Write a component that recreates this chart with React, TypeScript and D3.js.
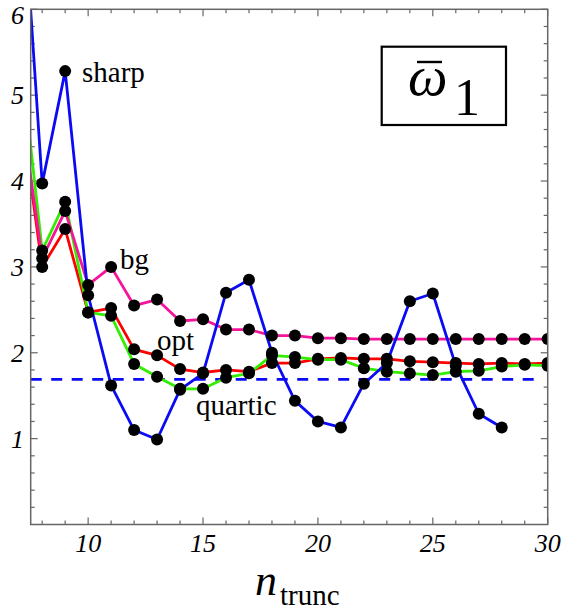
import React from 'react';
import * as d3 from 'd3';

// ---- data ----
const nAll = [7, 8, 9, 10, 11, 12, 13, 14, 15, 16, 17, 18, 19, 20, 21, 22, 23, 24, 25, 26, 27, 28, 29, 30];
const nSharp = [7, 8, 9, 10, 11, 12, 13, 14, 15, 16, 17, 18, 19, 20, 21, 22, 23, 24, 25, 26, 27, 28];
const sharpValues = [8.0, 3.97, 5.28, 2.67, 1.62, 1.10, 0.99, 1.57, 1.76, 2.70, 2.85, 2.0, 1.44, 1.20, 1.13, 1.64, 1.88, 2.60, 2.69, 1.85, 1.29, 1.13];
const bgValues = [5.0, 3.10, 3.65, 2.79, 3.0, 2.55, 2.62, 2.37, 2.39, 2.27, 2.27, 2.20, 2.20, 2.17, 2.17, 2.16, 2.16, 2.16, 2.16, 2.16, 2.16, 2.16, 2.16, 2.16];
const optValues = [4.96, 3.0, 3.44, 2.47, 2.52, 2.04, 1.97, 1.81, 1.77, 1.80, 1.78, 1.88, 1.88, 1.93, 1.94, 1.93, 1.93, 1.90, 1.89, 1.88, 1.87, 1.88, 1.87, 1.88];
const quarticValues = [5.61, 3.19, 3.76, 2.47, 2.43, 1.87, 1.72, 1.58, 1.58, 1.71, 1.76, 1.97, 1.95, 1.92, 1.92, 1.82, 1.78, 1.76, 1.74, 1.78, 1.79, 1.84, 1.86, 1.85];
const referenceLevel = 1.69;
const xTickLabels = [10, 15, 20, 25, 30];
const yTickLabels = [1, 2, 3, 4, 5, 6];

const W = 565;
const H = 611;
const L = 30.7, R = 547.7, T = 9.3, B = 524.5;

export default function App() {
  const x = d3.scaleLinear().domain([7.5, 30]).range([L, R]);
  const y = d3.scaleLinear().domain([0, 6]).range([B, T]);

  const series = [
    { name: 'opt', color: '#ff0000', xs: nAll, ys: optValues },
    { name: 'quartic', color: '#33ee00', xs: nAll, ys: quarticValues },
    { name: 'bg', color: '#f5149a', xs: nAll, ys: bgValues },
    { name: 'sharp', color: '#0a0af5', xs: nSharp, ys: sharpValues },
  ];

  const line = d3
    .line<[number, number]>()
    .x((d) => x(d[0]))
    .y((d) => y(d[1]));

  const xMinor = d3.range(8, 30, 1).filter((v) => v % 5 !== 0);
  const yMinor = d3.range(1, 30).map((v) => v * 0.2).filter((v) => Math.abs(v - Math.round(v)) > 1e-6);
  const frameColor = '#666';
  const font = 'Liberation Serif';

  return (
    <svg width={W} height={H} style={{ position: 'absolute', left: 0, top: 0, background: '#fff' }}>
      <defs>
        <clipPath id="plotClip">
          <rect x={L} y={T} width={R - L} height={B - T} />
        </clipPath>
      </defs>
      <rect x={0} y={0} width={W} height={H} fill="#fff" />

      {/* ticks */}
      <g stroke={frameColor} strokeWidth={1.2}>
        {xTickLabels.map((v) => (
          <g key={'xm' + v}>
            <line x1={x(v)} x2={x(v)} y1={B} y2={B - 7} />
            <line x1={x(v)} x2={x(v)} y1={T} y2={T + 7} />
          </g>
        ))}
        {xMinor.map((v) => (
          <g key={'xn' + v}>
            <line x1={x(v)} x2={x(v)} y1={B} y2={B - 4} />
            <line x1={x(v)} x2={x(v)} y1={T} y2={T + 4} />
          </g>
        ))}
        {yTickLabels.map((v) => (
          <g key={'ym' + v}>
            <line x1={L} x2={L + 7} y1={y(v)} y2={y(v)} />
            <line x1={R} x2={R - 7} y1={y(v)} y2={y(v)} />
          </g>
        ))}
        {yMinor.map((v) => (
          <g key={'yn' + v}>
            <line x1={L} x2={L + 4} y1={y(v)} y2={y(v)} />
            <line x1={R} x2={R - 4} y1={y(v)} y2={y(v)} />
          </g>
        ))}
      </g>

      <g clipPath="url(#plotClip)">
        <line
          x1={x(7.5)}
          x2={x(29.6)}
          y1={y(referenceLevel)}
          y2={y(referenceLevel)}
          stroke="#0a0af5"
          strokeWidth={2.6}
          strokeDasharray="11 9.5"
        />
        {series.map((s) => (
          <path
            key={s.name}
            d={line(s.xs.map((n, i) => [n, s.ys[i]] as [number, number])) || ''}
            fill="none"
            stroke={s.color}
            strokeWidth={2.8}
            strokeLinejoin="round"
          />
        ))}
        {series.map((s) =>
          s.xs.map((n, i) => (
            <circle key={s.name + n} cx={x(n)} cy={y(s.ys[i])} r={6} fill="#000" />
          ))
        )}
      </g>

      {/* frame */}
      <rect x={L} y={T} width={R - L} height={B - T} fill="none" stroke={frameColor} strokeWidth={1.5} />

      {/* tick labels */}
      <g fontFamily={font} fontStyle="italic" fontSize={26} fill="#000">
        {yTickLabels.map((v) => (
          <text key={'yl' + v} x={24} y={v === 6 ? 24 : y(v) + 9} textAnchor="end">
            {v}
          </text>
        ))}
        {xTickLabels.map((v) => (
          <text key={'xl' + v} x={x(v)} y={552} textAnchor="middle">
            {v}
          </text>
        ))}
      </g>

      {/* series labels */}
      <g fontFamily={font} fontSize={29} fill="#000">
        <text x={82} y={82}>sharp</text>
        <text x={120} y={269}>bg</text>
        <text x={157} y={350}>opt</text>
        <text x={196} y={415}>quartic</text>
      </g>

      {/* boxed label */}
      <rect x={381.7} y={46.7} width={124.3} height={78.3} fill="#fff" stroke="#000" strokeWidth={2.2} />
      <line x1={417} x2={442} y1={62} y2={62} stroke="#000" strokeWidth={2.4} />
      <text x={408} y={95} fontFamily={font} fontStyle="italic" fontSize={56} fill="#000">ω</text>
      <text x={454} y={115} fontFamily={font} fontSize={52} fill="#000">1</text>

      {/* axis title */}
      <text x={255} y={595} fontFamily={font} fontStyle="italic" fontSize={44} fill="#000">n</text>
      <text x={280} y={605} fontFamily={font} fontSize={29} fill="#000">trunc</text>
    </svg>
  );
}
